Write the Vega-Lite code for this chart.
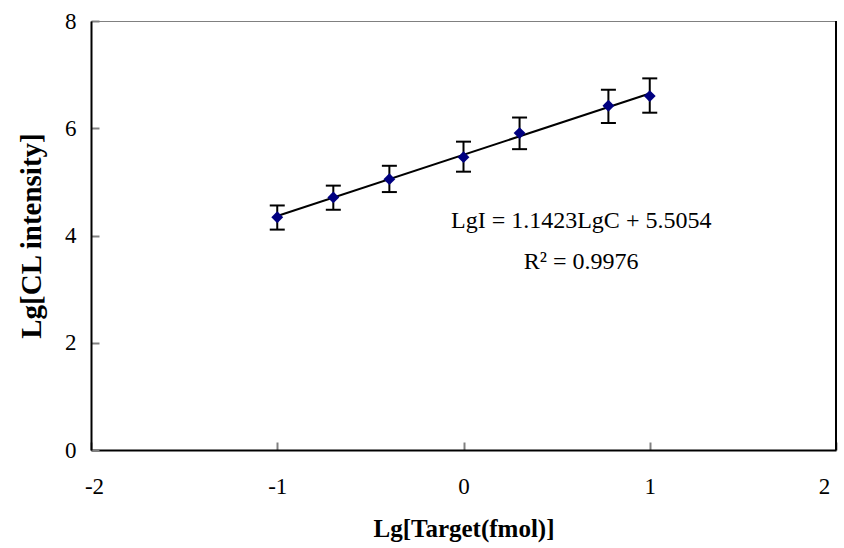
{
  "$schema": "https://vega.github.io/schema/vega-lite/v6.json",
  "autosize": {"type": "none"},
  "width": 745,
  "height": 429,
  "padding": {"left": 91, "top": 21, "right": 8, "bottom": 98},
  "background": "white",
  "config": {
    "view": {"stroke": "#808080", "strokeWidth": 1},
    "font": "Liberation Serif"
  },
  "datasets": {
    "pts": [
      {"x": -1.0, "y": 4.34, "lo": 4.11, "hi": 4.56},
      {"x": -0.699, "y": 4.71, "lo": 4.48, "hi": 4.93},
      {"x": -0.398, "y": 5.05, "lo": 4.81, "hi": 5.30},
      {"x": 0.0, "y": 5.46, "lo": 5.19, "hi": 5.75},
      {"x": 0.301, "y": 5.91, "lo": 5.61, "hi": 6.20},
      {"x": 0.778, "y": 6.42, "lo": 6.10, "hi": 6.72},
      {"x": 1.0, "y": 6.60, "lo": 6.29, "hi": 6.93}
    ],
    "fit": [
      {"x": -1.0, "y": 4.3631},
      {"x": 1.0, "y": 6.6477}
    ],
    "notes": [
      {"x": 0.632, "y": 4.27, "label": "LgI = 1.1423LgC + 5.5054"},
      {"x": 0.632, "y": 3.51, "label": "R² = 0.9976"}
    ]
  },
  "layer": [
    {
      "data": {"name": "fit"},
      "mark": {"type": "line", "color": "black", "strokeWidth": 2},
      "encoding": {
        "x": {
          "field": "x", "type": "quantitative",
          "scale": {"domain": [-2, 2], "nice": false, "zero": false},
          "axis": {
            "title": "Lg[Target(fmol)]",
            "titleFont": "Liberation Serif", "titleFontSize": 25, "titleFontWeight": "bold", "titleColor": "black",
            "titlePadding": 18,
            "values": [-2, -1, 0, 1, 2],
            "labelExpr": "'' + datum.value",
            "labelOffset": {"expr": "datum.value == 2 ? -12 : (datum.value == -2 ? 3 : 0)"},
            "labelFont": "Liberation Serif", "labelFontSize": 23, "labelColor": "black",
            "labelPadding": 33,
            "tickSize": -8, "tickColor": "#808080", "tickWidth": 2,
            "domainColor": "black", "domainWidth": 2,
            "grid": false, "labelFlush": false
          }
        },
        "y": {
          "field": "y", "type": "quantitative",
          "scale": {"domain": [0, 8], "nice": false},
          "axis": {
            "title": "Lg[CL intensity]",
            "titleFont": "Liberation Serif", "titleFontSize": 29, "titleFontWeight": "bold", "titleColor": "black",
            "titlePadding": 18,
            "values": [0, 2, 4, 6, 8],
            "labelExpr": "'' + datum.value",
            "labelFont": "Liberation Serif", "labelFontSize": 23, "labelColor": "black",
            "labelPadding": 23,
            "tickSize": -8, "tickColor": "#808080", "tickWidth": 2,
            "domainColor": "black", "domainWidth": 2,
            "grid": false, "labelFlush": false
          }
        }
      }
    },
    {
      "data": {"name": "pts"},
      "mark": {"type": "rule", "color": "black", "strokeWidth": 2},
      "encoding": {
        "x": {"field": "x", "type": "quantitative"},
        "y": {"field": "lo", "type": "quantitative"},
        "y2": {"field": "hi"}
      }
    },
    {
      "data": {"name": "pts"},
      "mark": {"type": "tick", "orient": "horizontal", "color": "black", "size": 15, "thickness": 2, "opacity": 1},
      "encoding": {
        "x": {"field": "x", "type": "quantitative"},
        "y": {"field": "lo", "type": "quantitative"}
      }
    },
    {
      "data": {"name": "pts"},
      "mark": {"type": "tick", "orient": "horizontal", "color": "black", "size": 15, "thickness": 2, "opacity": 1},
      "encoding": {
        "x": {"field": "x", "type": "quantitative"},
        "y": {"field": "hi", "type": "quantitative"}
      }
    },
    {
      "data": {"name": "pts"},
      "mark": {"type": "point", "shape": "diamond", "filled": true, "color": "#000080", "size": 140, "opacity": 1},
      "encoding": {
        "x": {"field": "x", "type": "quantitative"},
        "y": {"field": "y", "type": "quantitative"}
      }
    },
    {
      "data": {"values": [{"edge": 2}]},
      "mark": {"type": "rule", "color": "black", "strokeWidth": 2},
      "encoding": {
        "x": {"field": "edge", "type": "quantitative"}
      }
    },
    {
      "data": {"name": "notes"},
      "mark": {"type": "text", "font": "Liberation Serif", "fontSize": 24, "color": "black", "align": "center", "baseline": "middle"},
      "encoding": {
        "x": {"field": "x", "type": "quantitative"},
        "y": {"field": "y", "type": "quantitative"},
        "text": {"field": "label"}
      }
    }
  ]
}
